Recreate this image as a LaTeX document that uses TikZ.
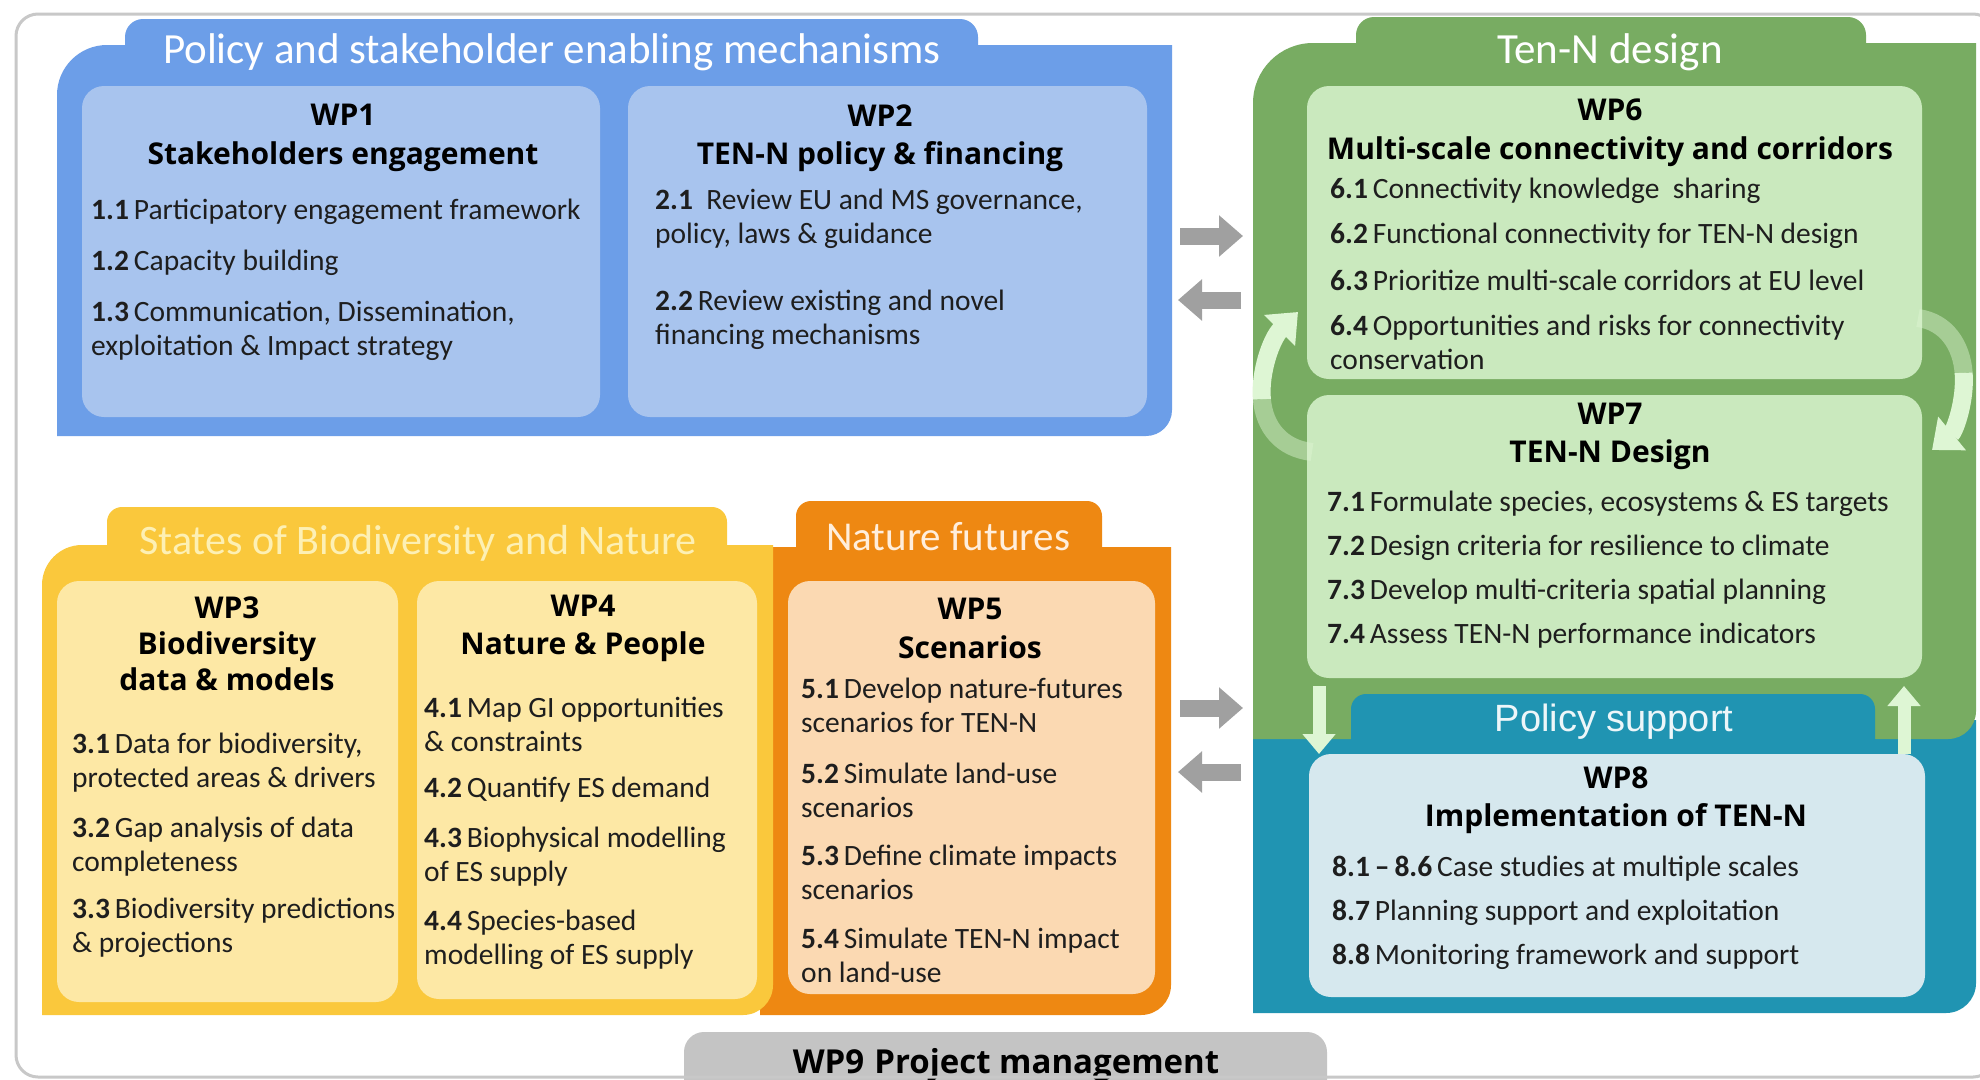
\documentclass[tikz,border=0pt]{standalone}
\usepackage{fontspec}
\setmainfont{Carlito}
\newfontfamily\headfont{Open Sans}
\newfontfamily\psfont{Liberation Sans}
\usetikzlibrary{arrows.meta}
\definecolor{bluedark}{RGB}{108,158,232}
\definecolor{bluelight}{RGB}{168,196,238}
\definecolor{greendark}{RGB}{120,172,98}
\definecolor{greenlight}{RGB}{202,233,190}
\definecolor{tealdark}{RGB}{32,148,178}
\definecolor{wpeightc}{RGB}{214,232,238}
\definecolor{yellowdark}{RGB}{250,200,60}
\definecolor{yellowlight}{RGB}{253,232,165}
\definecolor{orangedark}{RGB}{238,136,18}
\definecolor{orangelight}{RGB}{251,217,178}
\definecolor{arrowgray}{RGB}{160,160,160}
\definecolor{wpninec}{RGB}{196,196,196}
\definecolor{framec}{RGB}{200,200,200}
\definecolor{palegreen}{RGB}{222,246,212}
\definecolor{yellowtitle}{RGB}{253,240,180}
\definecolor{orangetitle}{RGB}{255,238,220}
\definecolor{itemtext}{RGB}{30,30,30}
\begin{document}
\begin{tikzpicture}[x=1pt,y=-1pt,
  sectitle/.style={font=\fontsize{43}{50}\selectfont, inner sep=0pt},
  wphead/.style={font=\headfont\bfseries\fontsize{30}{38.5}\selectfont, align=center, inner sep=0pt},
  wpheadthree/.style={font=\headfont\bfseries\fontsize{30}{36}\selectfont, align=center, inner sep=0pt},
  item/.style={font=\fontsize{29.5}{34}\selectfont, align=left, anchor=west, inner sep=0pt, text=itemtext},
  wpbox/.style={rounded corners=22pt, inner sep=0pt},
  grayarrow/.style={draw=arrowgray, line width=17pt, -{Triangle[length=24pt,width=40pt]}},
  palearrow/.style={draw=palegreen, line width=13pt, -{Triangle[length=20pt,width=32pt]}},
  cyclearrow/.style={draw=palegreen, line width=18pt, -{Triangle[length=26pt,width=42pt]}},
  cycletail/.style={draw=palegreen, line width=18pt, draw opacity=0.45}
]
\useasboundingbox (0,0) rectangle (1980,1079);
\fill[white] (0,0) rectangle (1980,1079);

% ---------------- Blue section ----------------
\fill[bluedark] (57,436) -- (57,95) arc[start angle=180,end angle=270,radius=50]
  -- (125,45) -- (125,37) arc[start angle=180,end angle=270,radius=18]
  -- (960,19) arc[start angle=270,end angle=360,radius=18]
  -- (978,45) -- (1172,45) -- (1172,410) arc[start angle=0,end angle=90,radius=26] -- cycle;
\node[sectitle, text=white] (t1) at (552,52) {Policy and stakeholder enabling mechanisms};

\node[wpbox, fill=bluelight, minimum width=518pt, minimum height=331pt] (wp1) at (341,251.5) {};
\node[wpbox, fill=bluelight, minimum width=519pt, minimum height=331pt] (wp2) at (887.5,251.5) {};

\node[wphead] (h1) at (343,138) {WP1\\Stakeholders engagement};
\node[item] (i11) at (91,212) {\textbf{1.1}\,Participatory engagement framework};
\node[item] (i12) at (91,263) {\textbf{1.2}\,Capacity building};
\node[item] (i13) at (91,330.5) {\textbf{1.3}\,Communication, Dissemination,\\exploitation \& Impact strategy};

\node[wphead] (h2) at (880,138) {WP2\\TEN-N policy \& financing};
\node[item] (i21) at (655,218.5) {\textbf{2.1}\ \ Review EU and MS governance,\\policy, laws \& guidance};
\node[item] (i22) at (655,320) {\textbf{2.2}\,Review existing and novel\\financing mechanisms};

% ---------------- Teal + green section ----------------
\fill[tealdark] (1253,720) -- (1976,720) -- (1976,983) arc[start angle=0,end angle=90,radius=30] -- (1253,1013) -- cycle;
\fill[greendark] (1253,739) -- (1253,103) arc[start angle=180,end angle=270,radius=60]
  -- (1356,43) -- (1356,35) arc[start angle=180,end angle=270,radius=18]
  -- (1848,17) arc[start angle=270,end angle=360,radius=18]
  -- (1866,43) -- (1976,43) -- (1976,711) arc[start angle=0,end angle=90,radius=28] -- cycle;
\fill[tealdark] (1351,745) -- (1351,709) arc[start angle=180,end angle=270,radius=15]
  -- (1860,694) arc[start angle=270,end angle=360,radius=15] -- (1875,745) -- cycle;
\node[sectitle, text=white] (t6) at (1610,52) {Ten-N design};
\node[font=\psfont\fontsize{38}{44}\selectfont, inner sep=0pt, text=white!92!tealdark] (t8) at (1614,722) {Policy support};

\node[wpbox, fill=greenlight, minimum width=615pt, minimum height=293pt] (wp6) at (1614.5,232.5) {};
\node[wpbox, fill=greenlight, minimum width=615pt, minimum height=283pt] (wp7) at (1614.5,536.5) {};
\node[wpbox, fill=wpeightc, minimum width=616pt, minimum height=243pt] (wp8) at (1617,875.5) {};

\node[wphead] (h6) at (1610,133) {WP6\\Multi-scale connectivity and corridors};
\node[item] (i61) at (1330,191) {\textbf{6.1}\,Connectivity knowledge\ \ sharing};
\node[item] (i62) at (1330,236) {\textbf{6.2}\,Functional connectivity for TEN-N design};
\node[item] (i63) at (1330,280) {\textbf{6.3}\,Prioritize multi-scale corridors at EU level};
\node[item] (i64) at (1330,342) {\textbf{6.4}\,Opportunities and risks for connectivity\\conservation};

\node[wphead] (h7) at (1610,436.5) {WP7\\TEN-N Design};
\node[item] (i71) at (1327,504) {\textbf{7.1}\,Formulate species, ecosystems \& ES targets};
\node[item] (i72) at (1327,548) {\textbf{7.2}\,Design criteria for resilience to climate};
\node[item] (i73) at (1327,592) {\textbf{7.3}\,Develop multi-criteria spatial planning};
\node[item] (i74) at (1327,636) {\textbf{7.4}\,Assess TEN-N performance indicators};

\node[wphead] (h8) at (1616,800) {WP8\\Implementation of TEN-N};
\node[item] (i81) at (1332,869) {\textbf{8.1\,--\,8.6}\,Case studies at multiple scales};
\node[item] (i87) at (1332,913) {\textbf{8.7}\,Planning support and exploitation};
\node[item] (i88) at (1332,957) {\textbf{8.8}\,Monitoring framework and support};

% cycle arrows WP6 <-> WP7
\coordinate (cl0) at (1312,452);
\coordinate (clm) at (1261.875,399.25);
\coordinate (cl1) at (1298,312);
\draw[cycletail] (cl0) .. controls (1281,448.5) and (1264.25,426.75) .. (clm);
\draw[cyclearrow] (clm) .. controls (1259.5,371.75) and (1271.5,338.5) .. (cl1);
\coordinate (cr0) at (1918,318);
\coordinate (crm) at (1963.625,372.75);
\coordinate (cr1) at (1932,450);
\draw[cycletail] (cr0) .. controls (1946.5,322) and (1961.5,345.5) .. (crm);
\draw[cyclearrow] (crm) .. controls (1965.75,400) and (1955,431) .. (cr1);

% WP7 <-> WP8 small arrows
\coordinate (d1a) at (1319,686);
\coordinate (d1b) at (1319,754);
\coordinate (u1a) at (1904,754);
\coordinate (u1b) at (1904,686);
\draw[palearrow] (d1a) -- (d1b);
\draw[palearrow] (u1a) -- (u1b);

% ---------------- Orange + yellow section ----------------
\fill[orangedark] (760,1015) -- (760,547) -- (796,547) -- (796,516) arc[start angle=180,end angle=270,radius=15]
  -- (1087,501) arc[start angle=270,end angle=360,radius=15]
  -- (1102,547) -- (1171,547) -- (1171,985) arc[start angle=0,end angle=90,radius=30] -- cycle;
\fill[yellowdark] (42,1015) -- (42,585) arc[start angle=180,end angle=270,radius=40]
  -- (107,545) -- (107,522) arc[start angle=180,end angle=270,radius=15]
  -- (712,507) arc[start angle=270,end angle=360,radius=15]
  -- (727,545) -- (773,545) -- (773,985) arc[start angle=0,end angle=90,radius=30] -- cycle;
\node[sectitle, text=yellowtitle, font=\fontsize{42}{48}\selectfont] (t3) at (418,543) {States of Biodiversity and Nature};
\node[sectitle, text=orangetitle, font=\fontsize{41}{48}\selectfont] (t5) at (948,537) {Nature futures};

\node[wpbox, fill=yellowlight, minimum width=341pt, minimum height=421pt] (wp3) at (227.5,791.5) {};
\node[wpbox, fill=yellowlight, minimum width=340pt, minimum height=418pt] (wp4) at (587,790) {};
\node[wpbox, fill=orangelight, minimum width=367pt, minimum height=413pt] (wp5) at (971.5,787.5) {};

\node[wpheadthree] (h3) at (227,644) {WP3\\Biodiversity\\data \& models};
\node[item] (i31) at (72,762.5) {\textbf{3.1}\,Data for biodiversity,\\protected areas \& drivers};
\node[item] (i32) at (72,847) {\textbf{3.2}\,Gap analysis of data\\completeness};
\node[item] (i33) at (72,927.5) {\textbf{3.3}\,Biodiversity predictions\\\& projections};

\node[wphead] (h4) at (583,628.5) {WP4\\Nature \& People};
\node[item] (i41) at (424,724) {\textbf{4.1}\,Map GI opportunities\\\& constraints};
\node[item] (i42) at (424,790) {\textbf{4.2}\,Quantify ES demand};
\node[item] (i43) at (424,857) {\textbf{4.3}\,Biophysical modelling\\of ES supply};
\node[item] (i44) at (424,940) {\textbf{4.4}\,Species-based\\modelling of ES supply};

\node[wphead] (h5) at (970,628.5) {WP5\\Scenarios};
\node[item] (i51) at (801,705.5) {\textbf{5.1}\,Develop nature-futures\\scenarios for TEN-N};
\node[item] (i52) at (801,790.5) {\textbf{5.2}\,Simulate land-use\\scenarios};
\node[item] (i53) at (801,872.5) {\textbf{5.3}\,Define climate impacts\\scenarios};
\node[item] (i54) at (801,955.5) {\textbf{5.4}\,Simulate TEN-N impact\\on land-use};

% ---------------- gray block arrows ----------------
\coordinate (g1a) at (1180,236);
\coordinate (g1b) at (1243,236);
\coordinate (g2a) at (1241,300);
\coordinate (g2b) at (1178,300);
\coordinate (g3a) at (1180,708);
\coordinate (g3b) at (1243,708);
\coordinate (g4a) at (1241,772);
\coordinate (g4b) at (1178,772);
\draw[grayarrow] (g1a) -- (g1b);
\draw[grayarrow] (g2a) -- (g2b);
\draw[grayarrow] (g3a) -- (g3b);
\draw[grayarrow] (g4a) -- (g4b);

% ---------------- WP9 ----------------
\fill[wpninec] (684,1090) -- (684,1052) arc[start angle=180,end angle=270,radius=20]
  -- (1307,1032) arc[start angle=270,end angle=360,radius=20] -- (1327,1090) -- cycle;
\node[font=\headfont\bfseries\fontsize{33}{40}\selectfont, inner sep=0pt] (wp9) at (1006,1065) {WP9\hspace{10pt}Project management};

% frame
\draw[framec, line width=3pt, rounded corners=22pt] (16,14) rectangle (1995,1077);
\end{tikzpicture}
\end{document}
